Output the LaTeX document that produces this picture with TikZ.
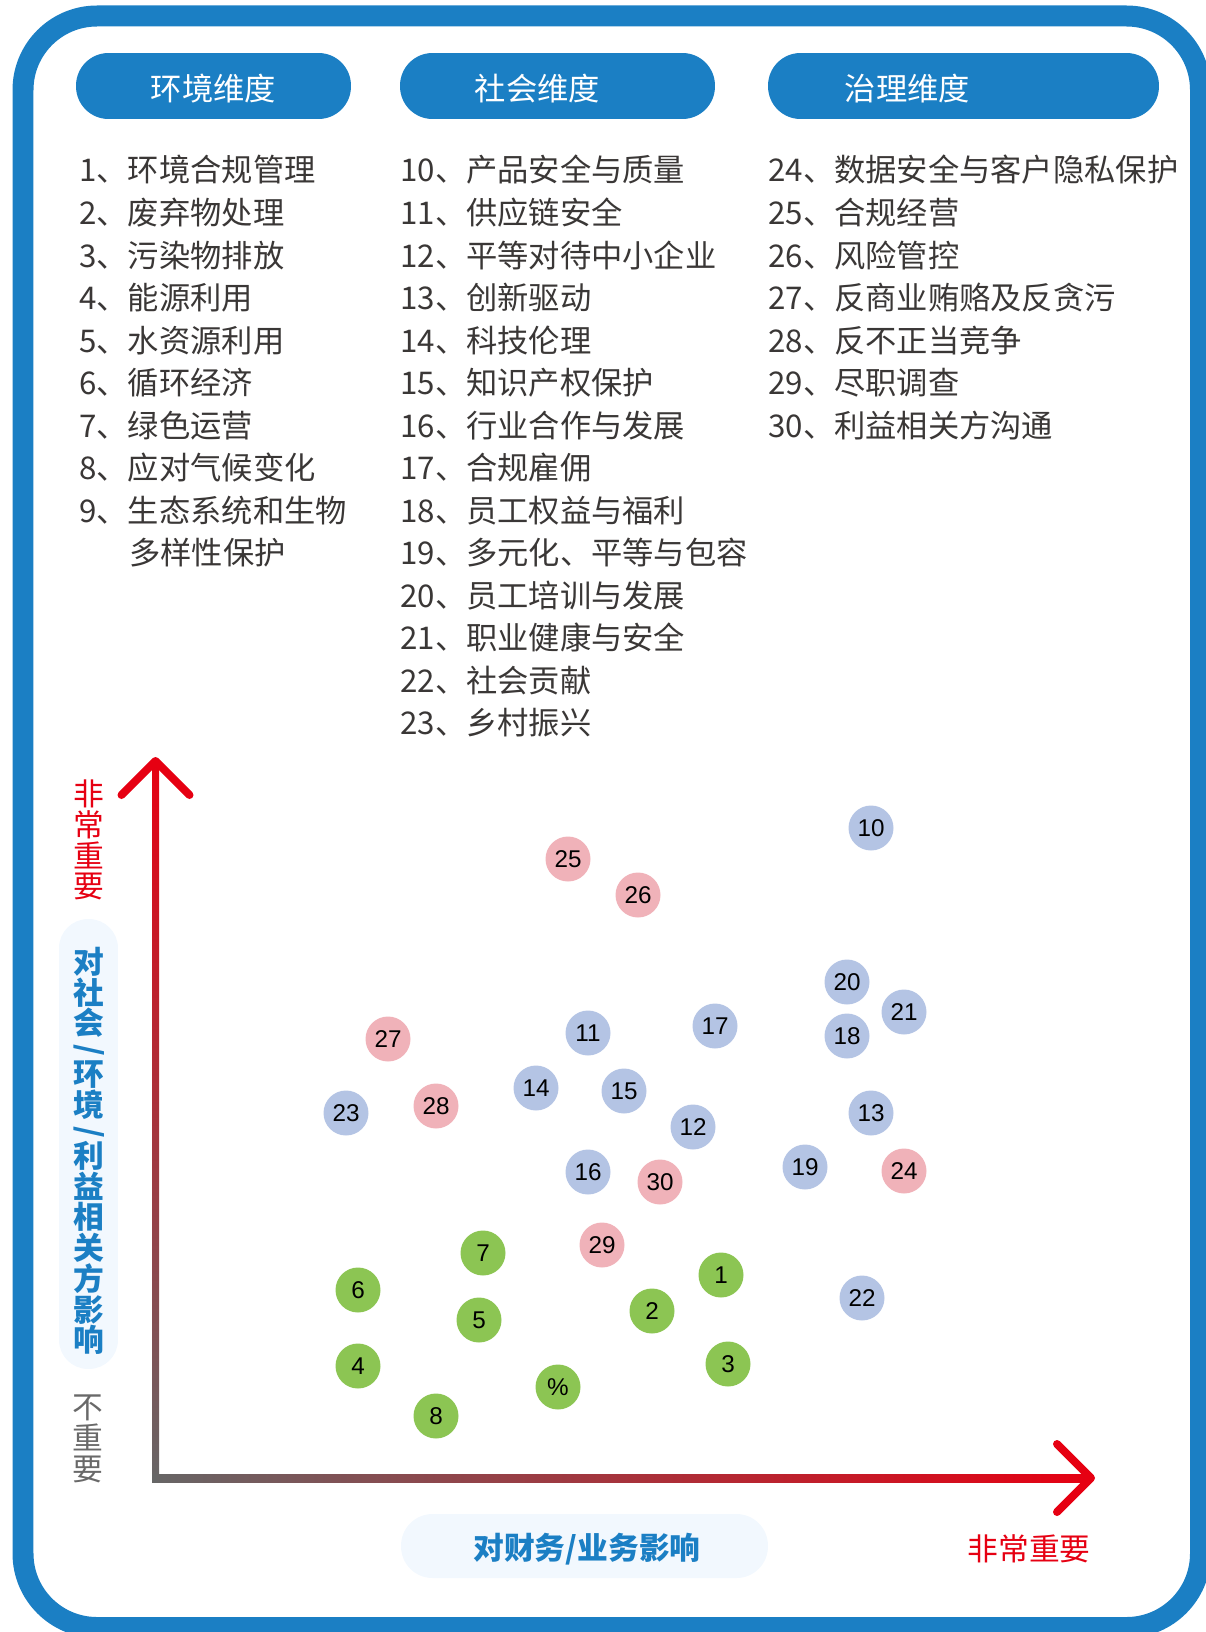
\documentclass[tikz,border=0pt]{standalone}
\usepackage{fontspec}
\setmainfont{Noto Sans CJK SC}
\newfontfamily\numfont{Liberation Sans}
\usetikzlibrary{calc, positioning}

\definecolor{framec}{RGB}{27,127,196}
\definecolor{palec}{RGB}{242,248,254}
\definecolor{textc}{RGB}{58,55,54}
\definecolor{axisred}{RGB}{230,0,18}
\definecolor{axisgray}{RGB}{102,102,102}
\definecolor{lowgray}{RGB}{105,105,105}
\definecolor{socc}{RGB}{180,196,228}
\definecolor{govc}{RGB}{240,178,185}
\definecolor{envc}{RGB}{140,197,83}

\tikzset{
  headbox/.style={fill=framec, rounded corners=0.65cm, minimum height=1.32cm, inner sep=0pt},
  headtext/.style={text=white, inner sep=0pt, font=\fontsize{17.8pt}{20pt}\selectfont},
  listitem/.style={anchor=base west, inner sep=0pt, text=textc, font=\fontsize{17.8pt}{20pt}\selectfont},
  ball/.style={circle, minimum size=0.9cm, inner sep=0pt, text=black, font=\numfont\fontsize{13.8pt}{15pt}\selectfont},
  socball/.style={ball, fill=socc},
  govball/.style={ball, fill=govc},
  envball/.style={ball, fill=envc},
  pill/.style={fill=palec, inner sep=0pt},
  axislabel/.style={align=center, inner sep=0pt, font=\fontsize{17.5pt}{17.5pt}\selectfont},
}

\begin{document}
\begin{tikzpicture}[x=0.02cm, y=-0.02cm]
    \useasboundingbox (0,0) rectangle (1205,1632);

    % Outer frame
    \draw[framec, line width=0.42cm, rounded corners=1.48cm] (23,16) rectangle (1200.5,1627.5);

    % Header pills
    \node[headbox, minimum width=5.5cm] (envhead) at (213.5,86) {};
    \node[headbox, minimum width=6.3cm] (sochead) at (557.5,86) {};
    \node[headbox, minimum width=7.82cm] (govhead) at (963.5,86) {};
    \node[headtext] (envtitle) at (213.5,89) {环境维度};
    \node[headtext] (soctitle) at (537.5,89) {社会维度};
    \node[headtext] (govtitle) at (907.5,89) {治理维度};

    % Environment list
    \node[listitem] (e1) at (79,182) {1、环境合规管理};
    \node[listitem] (e2) at (79,224.5) {2、废弃物处理};
    \node[listitem] (e3) at (79,267) {3、污染物排放};
    \node[listitem] (e4) at (79,309.5) {4、能源利用};
    \node[listitem] (e5) at (79,352) {5、水资源利用};
    \node[listitem] (e6) at (79,394.5) {6、循环经济};
    \node[listitem] (e7) at (79,437) {7、绿色运营};
    \node[listitem] (e8) at (79,479.5) {8、应对气候变化};
    \node[listitem] (e9) at (79,522) {9、生态系统和生物};
    \node[listitem] (e9b) at (129,564.5) {多样性保护};

    % Social list
    \node[listitem] (s10) at (400,182) {10、产品安全与质量};
    \node[listitem] (s11) at (400,224.5) {11、供应链安全};
    \node[listitem] (s12) at (400,267) {12、平等对待中小企业};
    \node[listitem] (s13) at (400,309.5) {13、创新驱动};
    \node[listitem] (s14) at (400,352) {14、科技伦理};
    \node[listitem] (s15) at (400,394.5) {15、知识产权保护};
    \node[listitem] (s16) at (400,437) {16、行业合作与发展};
    \node[listitem] (s17) at (400,479.5) {17、合规雇佣};
    \node[listitem] (s18) at (400,522) {18、员工权益与福利};
    \node[listitem] (s19) at (400,564.5) {19、多元化、平等与包容};
    \node[listitem] (s20) at (400,607) {20、员工培训与发展};
    \node[listitem] (s21) at (400,649.5) {21、职业健康与安全};
    \node[listitem] (s22) at (400,692) {22、社会贡献};
    \node[listitem] (s23) at (400,734.5) {23、乡村振兴};

    % Governance list
    \node[listitem] (g24) at (768,182) {24、数据安全与客户隐私保护};
    \node[listitem] (g25) at (768,224.5) {25、合规经营};
    \node[listitem] (g26) at (768,267) {26、风险管控};
    \node[listitem] (g27) at (768,309.5) {27、反商业贿赂及反贪污};
    \node[listitem] (g28) at (768,352) {28、反不正当竞争};
    \node[listitem] (g29) at (768,394.5) {29、尽职调查};
    \node[listitem] (g30) at (768,437) {30、利益相关方沟通};

    % Axes
    \coordinate (origin) at (155.5,1478);
    \coordinate (ytip) at (155.5,761);
    \coordinate (xtip) at (1091,1478);
    \shade[bottom color=axisgray, top color=axisred] ($(origin)+(-3.5,4)$) rectangle ($(ytip)+(3.5,0)$);
    \shade[left color=axisgray, right color=axisred] ($(origin)+(-3.5,-4)$) rectangle ($(xtip)+(0,4)$);
    \draw[axisred, line width=0.16cm, line cap=round, line join=round] ($(ytip)+(-34,34)$) -- (ytip) -- ($(ytip)+(34,34)$);
    \draw[axisred, line width=0.16cm, line cap=round, line join=round] ($(xtip)+(-34,-34)$) -- (xtip) -- ($(xtip)+(-34,34)$);

    % Axis labels
    \node[axislabel, text=axisred] (ytop) at (89,840) {非\\常\\重\\要};
    \node[pill, rounded corners=0.58cm, minimum width=1.18cm, minimum height=9cm] (ypill) at (88.5,1144) {};
    \node[axislabel, text=framec, font=\bfseries\fontsize{17.5pt}{17.5pt}\selectfont] (ytitle) at (89,1151)
        {对\\社\\会\\[-3pt]\rotatebox[origin=c]{-90}{/}\\[-3pt]环\\境\\[-3pt]\rotatebox[origin=c]{-90}{/}\\[-3pt]利\\益\\相\\关\\方\\影\\响};
    \node[axislabel, text=lowgray] (ybottom) at (88,1439) {不\\重\\要};
    \node[pill, rounded corners=0.63cm, minimum width=7.34cm, minimum height=1.28cm] (xpill) at (584.5,1546) {};
    \node[text=framec, inner sep=0pt, font=\bfseries\fontsize{17.5pt}{20pt}\selectfont] (xtitle) at (587,1549) {对财务/业务影响};
    \node[text=axisred, inner sep=0pt, font=\fontsize{17.5pt}{20pt}\selectfont] (xright) at (1029,1549) {非常重要};

    % Social topics
    \node[socball] (p10) at (871,828) {10};
    \node[socball] (p11) at (588,1033) {11};
    \node[socball] (p12) at (693,1127) {12};
    \node[socball] (p13) at (871,1113) {13};
    \node[socball] (p14) at (536,1088) {14};
    \node[socball] (p15) at (624,1091) {15};
    \node[socball] (p16) at (588,1172) {16};
    \node[socball] (p17) at (715,1026) {17};
    \node[socball] (p18) at (847,1036) {18};
    \node[socball] (p19) at (805,1167) {19};
    \node[socball] (p20) at (847,982) {20};
    \node[socball] (p21) at (904,1012) {21};
    \node[socball] (p22) at (862,1298) {22};
    \node[socball] (p23) at (346,1113) {23};

    % Governance topics
    \node[govball] (p24) at (904,1171) {24};
    \node[govball] (p25) at (568,859) {25};
    \node[govball] (p26) at (638,895) {26};
    \node[govball] (p27) at (388,1039) {27};
    \node[govball] (p28) at (436,1106) {28};
    \node[govball] (p29) at (602,1245) {29};
    \node[govball] (p30) at (660,1182) {30};

    % Environment topics
    \node[envball] (p1) at (721,1275) {1};
    \node[envball] (p2) at (652,1311) {2};
    \node[envball] (p3) at (728,1364) {3};
    \node[envball] (p4) at (358,1366) {4};
    \node[envball] (p5) at (479,1320) {5};
    \node[envball] (p6) at (358,1290) {6};
    \node[envball] (p7) at (483,1253) {7};
    \node[envball] (p8) at (436,1416) {8};
    \node[envball] (p9) at (558,1387) {\%};
\end{tikzpicture}
\end{document}
